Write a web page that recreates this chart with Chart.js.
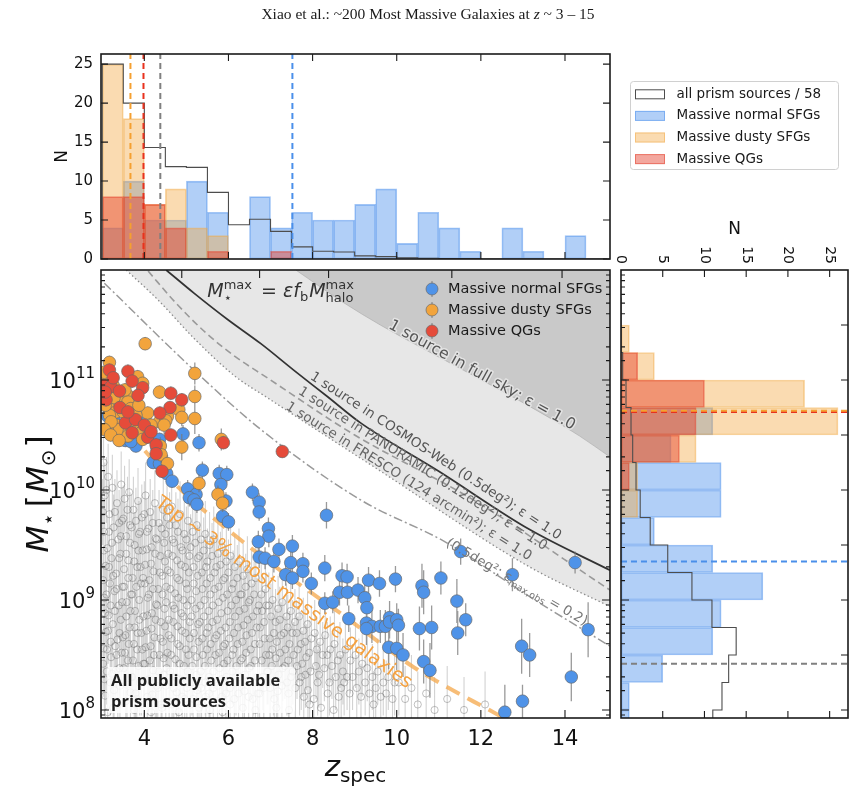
<!DOCTYPE html>
<html>
<head>
<meta charset="utf-8">
<title>Most massive galaxies at z ~ 3-15</title>
<script src="https://cdn.jsdelivr.net/npm/chart.js@4.4.1/dist/chart.umd.min.js"></script>
<style>
  html, body { margin:0; padding:0; background:#ffffff; }
  #wrap { position:relative; width:856px; height:789px; overflow:hidden; background:#fff; }
  #wrap canvas { position:absolute; left:0; top:0; }
  #title { position:absolute; left:0; top:5px; width:856px; text-align:center;
           font-family:"Liberation Serif","Times New Roman",serif; font-size:15.5px; color:#1a1a1a; }
</style>
</head>
<body>
<div id="wrap">
  <canvas id="cTop" width="856" height="789"></canvas>
  <canvas id="cMain" width="856" height="789"></canvas>
  <canvas id="cRight" width="856" height="789"></canvas>
  <div id="title">Xiao et al.: ~200 Most Massive Galaxies at <i>z</i> ~ 3 – 15</div>
</div>
<script>
// ======================= DATA =======================
const zRange = [2.97, 15.07];
const logMRange = [7.927, 12.0];
const nTopMax = 26.3;
const nRightMax = 27.2;
const mainTopTickZ = [4.89, 6.74, 8.38, 11.31, 13.93];

// redshift histogram (top panel), bins of 0.5 starting at z=3
const zEdges = [3.0,3.5,4.0,4.5,5.0,5.5,6.0,6.5,7.0,7.5,8.0,8.5,9.0,9.5,10.0,10.5,11.0,11.5,12.0,12.5,13.0,13.5,14.0,14.5,15.0];
const zHistAll    = [25,20,14.3,11.85,11.75,8.55,4.4,5.1,3.55,1.55,1.0,0.9,0.4,0.3,0.15,0.1,0.05,0.05,0,0,0,0,0,0];
const zHistNormal = [4,10,5,5,10,6,0,8,4,6,5,5,7,9,2,6,4,1,0,4,1,0,3,0];
const zHistDusty  = [25,18,7,9,4,3,0,0,0,0,0,0,0,0,0,0,0,0,0,0,0,0,0,0];
const zHistQG     = [8,8,7,4,0,1,0,0,1,0,0,0,0,0,0,0,0,0,0,0,0,0,0,0];
const zMedians = { all: 4.38, normal: 7.52, dusty: 3.67, qg: 3.98 };

// stellar-mass histogram (right panel), bins of 0.25 dex in log M
const mEdges = [7.75,8.0,8.25,8.5,8.75,9.0,9.25,9.5,9.75,10.0,10.25,10.5,10.75,11.0,11.25,11.5,11.75];
const mHistAll    = [11,12.1,12.9,13.8,10.9,8.5,5.6,3.5,2.3,1.8,1.4,1.2,0.6,0.2,0,0];
const mHistNormal = [1,1,5,11,12,17,11,4,12,12,6,11,0,0,0,0];
const mHistDusty  = [0,0,0,0,0,0,0,0,2,2,9,26,22,4,1,0];
const mHistQG     = [0,0,0,0,0,0,0,0,0,1,7,9,10,2,0,0];
const mMedians = { all: 8.42, normal: 9.35, dusty: 10.72, qg: 10.71 };

// curves: [z, log M*max]
const curveFullSky = [[7.6,12.0],[8.75,11.70],[9.61,11.50],[11.58,11.09],[13.16,10.76],[14.35,10.49],[15.07,10.30]];
const curveCosmos  = [[4.52,12.0],[5.18,11.79],[5.98,11.55],[6.77,11.33],[7.55,11.09],[8.35,10.85],[9.14,10.61],[11.0,10.17],[13.16,9.64],[15.07,9.27]];
const curvePanoramic = [[4.09,11.99],[4.75,11.70],[5.46,11.43],[6.17,11.21],[6.88,11.03],[9.0,10.50],[11.82,9.91],[15.07,9.09]];
const curveFresco  = [[3.57,12.0],[4.32,11.73],[5.23,11.36],[6.17,11.03],[6.88,10.85],[9.5,10.20],[13.16,9.30],[15.07,8.94]];
const curveEps02   = [[3.05,11.88],[5.18,11.09],[6.77,10.55],[9.14,9.91],[11.19,9.52],[13.16,9.03],[15.07,8.58]];
const curveTop3    = [[3.64,10.52],[4.79,10.03],[5.98,9.64],[7.55,9.18],[8.66,8.88],[10.4,8.39],[12.53,7.93]];

// massive galaxies: [z, log M*, error (dex)]
const normalSFGs = [
 [3.1,10.55,.06],[3.3,10.62,.06],[3.55,10.45,.06],[3.6,10.66,.06],[3.8,10.4,.06],[3.85,10.62,.06],[4.1,10.5,.06],[4.3,10.38,.06],
 [3.13,10.67,.06],[3.73,10.56,.06],[3.95,10.53,.06],[4.92,10.51,.08],[3.68,10.44,.06],[4.36,10.46,.06],[5.30,10.43,.08],
 [4.21,10.25,.06],[4.36,10.24,.06],[4.53,10.15,.06],[5.38,10.18,.08],[5.78,10.15,.08],[5.96,10.14,.08],[4.66,10.08,.06],
 [5.03,10.01,.08],[5.82,10.05,.08],[5.23,9.96,.08],[5.07,9.93,.08],[5.18,9.91,.08],[5.25,9.87,.08],[5.94,9.90,.08],
 [6.57,9.98,.08],[6.73,9.89,.08],[6.73,9.80,.08],[5.86,9.76,.08],[6.00,9.71,.08],[8.33,9.77,.12],[6.95,9.65,.1],
 [6.96,9.58,.1],[6.71,9.53,.1],[7.52,9.49,.1],[7.20,9.46,.1],[6.73,9.39,.1],[6.87,9.38,.1],[7.08,9.35,.1],[7.48,9.34,.1],
 [7.77,9.33,.1],[7.77,9.26,.1],[8.29,9.29,.12],[7.36,9.23,.1],[7.52,9.20,.1],[7.97,9.15,.1],[8.70,9.22,.12],[8.82,9.21,.12],
 [8.64,9.07,.12],[8.83,9.07,.12],[9.08,9.09,.12],[9.24,9.02,.12],[8.29,8.97,.1],[8.48,8.98,.1],[8.86,8.83,.12],[9.29,8.93,.15],
 [9.33,9.18,.12],[9.59,9.15,.12],[9.97,9.19,.12],[9.28,8.79,.15],[9.41,8.76,.15],[9.28,8.74,.15],[9.61,8.76,.15],[9.73,8.76,.15],
 [9.83,8.84,.15],[9.83,8.80,.15],[10.0,8.82,.15],[10.04,8.77,.15],[9.81,8.57,.2],[10.0,8.56,.2],[10.15,8.50,.2],[10.60,9.13,.2],
 [10.64,9.07,.2],[11.05,9.20,.15],[10.54,8.74,.2],[10.83,8.75,.2],[10.64,8.44,.2],[10.79,8.36,.25],[11.43,8.99,.2],[11.45,8.70,.2],
 [11.64,8.82,.15],[11.52,9.44,.12],[12.75,9.23,.15],[12.97,8.58,.25],[13.16,8.50,.2],[12.99,8.08,.15],[12.57,7.98,.25],
 [14.24,9.34,.1],[14.55,8.73,.25],[14.15,8.30,.22]
];
const dustySFGs = [
 [4.02,11.33,.06],[3.17,11.16,.06],[3.84,11.03,.06],[5.20,11.06,.1],[3.01,11.0,.06],[3.96,10.97,.06],[4.36,10.89,.06],
 [5.20,10.85,.1],[3.09,10.85,.06],[3.45,10.83,.06],[3.64,10.85,.06],[3.61,10.80,.06],[3.17,10.74,.06],[3.33,10.71,.06],
 [3.68,10.74,.06],[4.82,10.73,.1],[4.08,10.70,.06],[3.17,10.68,.06],[4.55,10.67,.08],[4.89,10.66,.08],[5.20,10.65,.14],
 [3.76,10.61,.06],[4.36,10.62,.08],[4.51,10.63,.08],[4.47,10.59,.08],[3.49,10.56,.06],[3.33,10.59,.06],[3.41,10.55,.06],
 [3.64,10.53,.06],[3.92,10.52,.06],[3.61,10.49,.06],[3.96,10.46,.06],[4.38,10.40,.08],[5.83,10.46,.1],[4.89,10.39,.12],
 [4.40,10.32,.08],[4.55,10.24,.08],[5.30,10.06,.08],[5.75,9.96,.08],[5.86,9.88,.08],[3.05,11.07,.06],[3.26,10.95,.06],
 [3.50,10.71,.06],[3.21,10.62,.06],[3.80,10.68,.06],[3.07,10.77,.06],[3.28,10.84,.06],[3.54,10.91,.06],[3.87,10.77,.06],
 [4.16,10.59,.06],[3.05,10.55,.06],[3.2,10.5,.06],[3.4,10.45,.06]
];
const quiescentGs = [
 [3.17,11.09,.06],[3.61,11.08,.06],[3.71,10.99,.06],[3.03,10.95,.06],[3.21,10.94,.06],[3.96,10.93,.06],[3.41,10.90,.06],
 [4.63,10.88,.06],[4.89,10.82,.06],[3.09,10.82,.06],[3.42,10.75,.06],[4.61,10.75,.06],[4.37,10.70,.06],[3.55,10.61,.06],
 [3.79,10.64,.06],[4.0,10.59,.06],[3.71,10.52,.06],[4.63,10.50,.06],[4.08,10.48,.06],[5.88,10.43,.06],[4.28,10.41,.06],
 [4.28,10.33,.06],[4.42,10.17,.06],[7.28,10.35,.06],[3.26,11.02,.06],[3.07,10.89,.06],[3.61,10.71,.06],[3.85,10.86,.06],
 [4.16,10.53,.06]
];

// all public prism sources (faint background): [z, log M*]
const grayErr = 0.3;
const grayCloud = [
 [3.03,10.25],[3.06,9.95],[3.04,9.62],[3.08,9.31],[3.05,9.02],[3.09,8.71],[3.02,8.42],[3.07,8.13],
 [3.14,10.12],[3.17,9.78],[3.12,9.47],[3.18,9.15],[3.15,8.86],[3.11,8.55],[3.19,8.25],[3.13,7.98],
 [3.24,10.02],[3.27,9.66],[3.22,9.38],[3.29,9.08],[3.25,8.78],[3.21,8.48],[3.28,8.18],
 [3.35,9.88],[3.38,9.55],[3.33,9.24],[3.39,8.95],[3.36,8.64],[3.32,8.36],[3.37,8.05],
 [3.45,10.05],[3.47,9.72],[3.43,9.42],[3.48,9.12],[3.44,8.82],[3.46,8.52],[3.42,8.22],
 [3.53,9.92],[3.57,9.58],[3.52,9.28],[3.58,8.98],[3.55,8.68],[3.51,8.38],[3.56,8.08],
 [3.64,9.98],[3.66,9.68],[3.62,9.36],[3.68,9.05],[3.65,8.75],[3.61,8.45],[3.67,8.16],
 [3.74,9.82],[3.77,9.5],[3.72,9.2],[3.78,8.9],[3.75,8.6],[3.71,8.3],[3.76,8.0],
 [3.85,9.9],[3.87,9.6],[3.83,9.3],[3.88,9.0],[3.84,8.7],[3.86,8.4],[3.82,8.1],
 [3.94,9.75],[3.96,9.45],[3.92,9.15],[3.98,8.85],[3.95,8.55],[3.93,8.25],
 [4.03,9.95],[4.06,9.62],[4.02,9.32],[4.08,9.02],[4.05,8.72],[4.01,8.42],[4.07,8.12],
 [4.14,9.8],[4.17,9.48],[4.12,9.18],[4.18,8.88],[4.15,8.58],[4.11,8.28],[4.16,7.98],
 [4.25,9.88],[4.27,9.56],[4.22,9.26],[4.28,8.96],[4.24,8.66],[4.21,8.36],[4.26,8.06],
 [4.35,9.7],[4.38,9.4],[4.33,9.1],[4.39,8.8],[4.36,8.5],[4.32,8.2],
 [4.45,9.82],[4.47,9.52],[4.43,9.22],[4.48,8.92],[4.44,8.62],[4.46,8.32],[4.42,8.02],
 [4.54,9.75],[4.57,9.42],[4.52,9.12],[4.58,8.82],[4.55,8.52],[4.51,8.22],
 [4.65,9.85],[4.67,9.55],[4.62,9.25],[4.68,8.95],[4.64,8.65],[4.61,8.35],[4.66,8.05],
 [4.75,9.68],[4.78,9.36],[4.73,9.06],[4.79,8.76],[4.74,8.46],[4.77,8.16],
 [4.85,9.78],[4.87,9.48],[4.83,9.18],[4.88,8.88],[4.84,8.58],[4.86,8.28],[4.82,7.98],
 [4.95,9.6],[4.97,9.3],[4.93,9.0],[4.98,8.7],[4.94,8.4],[4.96,8.1],
 [5.04,9.72],[5.07,9.4],[5.02,9.1],[5.08,8.8],[5.05,8.5],[5.01,8.2],
 [5.15,9.62],[5.17,9.3],[5.12,9.0],[5.18,8.7],[5.14,8.4],[5.16,8.1],
 [5.25,9.68],[5.27,9.38],[5.23,9.08],[5.28,8.78],[5.24,8.48],[5.26,8.18],
 [5.35,9.55],[5.37,9.25],[5.33,8.95],[5.38,8.65],[5.34,8.35],[5.36,8.05],
 [5.45,9.6],[5.47,9.3],[5.43,9.0],[5.48,8.7],[5.44,8.4],[5.46,8.12],
 [5.55,9.5],[5.57,9.2],[5.53,8.9],[5.58,8.6],[5.54,8.3],[5.56,8.0],
 [5.65,9.55],[5.67,9.25],[5.63,8.95],[5.68,8.65],[5.64,8.35],
 [5.75,9.42],[5.77,9.12],[5.73,8.82],[5.78,8.52],[5.74,8.22],
 [5.85,9.48],[5.87,9.18],[5.83,8.88],[5.88,8.58],[5.84,8.28],[5.86,7.98],
 [5.95,9.35],[5.97,9.05],[5.93,8.75],[5.98,8.45],[5.94,8.15],
 [6.05,9.4],[6.08,9.1],[6.03,8.8],[6.09,8.5],[6.04,8.2],
 [6.15,9.3],[6.18,9.0],[6.13,8.7],[6.19,8.4],[6.14,8.1],
 [6.25,9.35],[6.28,9.05],[6.23,8.75],[6.29,8.45],[6.24,8.15],
 [6.35,9.22],[6.38,8.92],[6.33,8.62],[6.39,8.32],[6.34,8.02],
 [6.45,9.28],[6.48,8.98],[6.43,8.68],[6.49,8.38],
 [6.55,9.15],[6.58,8.85],[6.53,8.55],[6.59,8.25],
 [6.65,9.2],[6.68,8.9],[6.63,8.6],[6.69,8.3],[6.64,8.0],
 [6.78,9.05],[6.75,8.75],[6.79,8.45],[6.74,8.15],
 [6.88,9.1],[6.85,8.8],[6.89,8.5],[6.84,8.2],
 [6.96,8.95],[6.98,8.65],[6.94,8.35],
 [7.05,9.0],[7.08,8.7],[7.03,8.4],[7.09,8.1],
 [7.18,8.92],[7.15,8.62],[7.19,8.32],[7.14,8.02],
 [7.28,8.98],[7.25,8.68],[7.29,8.38],
 [7.38,8.85],[7.35,8.55],[7.39,8.25],
 [7.48,8.9],[7.45,8.6],[7.49,8.3],[7.44,8.0],
 [7.58,8.8],[7.55,8.5],[7.59,8.2],
 [7.68,8.85],[7.65,8.55],[7.69,8.25],
 [7.78,8.72],[7.75,8.42],[7.79,8.12],
 [7.88,8.78],[7.85,8.48],[7.89,8.18],
 [7.97,8.65],[7.95,8.35],
 [8.05,8.7],[8.08,8.4],[8.03,8.1],[8.18,8.62],[8.15,8.32],[8.2,8.02],[8.3,8.68],[8.28,8.38],
 [8.42,8.55],[8.4,8.25],[8.52,8.6],[8.55,8.3],[8.5,8.0],[8.65,8.5],[8.68,8.2],[8.78,8.55],[8.75,8.25],
 [8.9,8.45],[8.88,8.15],
 [9.02,8.5],[9.05,8.2],[9.18,8.42],[9.15,8.12],[9.3,8.38],[9.42,8.3],[9.45,8.05],[9.55,8.35],[9.68,8.25],
 [9.8,8.3],[9.9,8.1],
 [10.05,8.25],[10.2,8.1],[10.35,8.2],[10.5,8.05],[10.7,8.15],[10.9,8.0],[11.2,8.1],[11.6,8.0],[12.1,8.05],
 [3.01,9.8],[3.04,9.45],[3.02,9.18],[3.06,8.88],[3.03,8.56],[3.05,8.28],[3.1,10.0],[3.1,9.05],[3.11,8.35],[3.16,9.62],
 [3.16,9.3],[3.14,8.72],[3.2,8.95],[3.2,8.62],[3.23,9.52],[3.23,8.33],[3.26,9.22],[3.26,8.02],[3.3,9.8],[3.3,8.9],
 [3.31,8.58],[3.34,9.1],[3.34,8.5],[3.4,9.7],[3.4,9.38],[3.41,8.7],[3.41,8.38],[3.44,9.58],[3.47,8.98],[3.49,8.66],
 [3.5,9.74],[3.52,9.12],[3.54,8.52],[3.57,9.42],[3.57,8.85],[3.59,8.23],[3.6,9.82],[3.62,9.2],[3.63,8.6],[3.66,9.52],
 [3.67,8.9],[3.69,8.3],[3.7,9.66],[3.71,9.05],[3.73,8.45],[3.76,9.35],[3.77,8.75],[3.79,8.15],[3.8,9.72],[3.81,9.12],
 [3.83,8.55],[3.86,9.45],[3.88,8.82],[3.89,8.25],[3.9,9.62],[3.91,9.3],[3.93,8.7],[3.97,9.2],[3.98,8.42],[3.99,8.05],
 [4.0,9.78],[4.01,9.15],[4.03,8.57],[4.06,9.46],[4.07,8.86],[4.09,8.27],[4.1,9.65],[4.11,9.05],[4.13,8.45],[4.16,9.33],
 [4.17,8.74],[4.19,8.14],[4.2,9.7],[4.21,9.1],[4.23,8.5],[4.26,9.42],[4.27,8.82],[4.29,8.22],[4.3,9.55],[4.31,8.95],
 [4.34,8.35],[4.37,9.25],[4.38,8.65],[4.4,8.05],[4.41,9.65],[4.43,9.05],[4.46,8.47],[4.49,9.35],[4.49,8.76],
 [4.5,9.6],[4.52,8.98],[4.53,8.38],[4.56,9.27],[4.58,8.68],[4.59,8.08],[4.6,9.68],[4.62,9.1],[4.64,8.5],[4.67,9.4],
 [4.69,8.8],[4.7,8.2],[4.71,9.52],[4.72,8.92],[4.75,8.3],[4.78,9.2],[4.79,8.6],[4.8,9.62],[4.81,9.02],[4.84,8.42],
 [4.87,9.32],[4.89,8.72],[4.9,8.12],[4.91,9.45],[4.93,8.85],[4.96,8.25],[4.99,9.15],[4.99,8.55],
 [5.0,9.55],[5.02,8.95],[5.03,8.35],[5.06,9.25],[5.08,8.65],[5.09,8.05],[5.1,9.48],[5.12,8.85],[5.13,8.25],[5.17,9.15],
 [5.18,8.55],[5.21,9.52],[5.22,8.92],[5.24,8.32],[5.27,9.22],[5.29,8.62],[5.3,8.02],[5.31,9.4],[5.32,8.8],[5.35,8.2],
 [5.38,9.1],[5.39,8.5],[5.41,9.45],[5.42,8.85],[5.45,8.25],[5.48,9.15],[5.49,8.55],
 [5.5,9.35],[5.52,8.75],[5.54,8.15],[5.57,9.05],[5.59,8.45],[5.61,9.4],[5.62,8.8],[5.64,8.2],[5.67,9.1],[5.69,8.5],
 [5.71,9.3],[5.72,8.68],[5.74,8.08],[5.77,8.98],[5.79,8.38],[5.81,9.32],[5.82,8.72],[5.84,8.12],[5.87,9.02],[5.89,8.42],
 [5.91,9.2],[5.92,8.6],[5.95,8.3],[5.98,8.9],
 [6.0,9.25],[6.02,8.65],[6.04,8.05],[6.07,8.95],[6.09,8.35],[6.11,9.15],[6.12,8.55],[6.16,8.85],[6.18,8.25],[6.21,9.2],
 [6.22,8.6],[6.26,8.9],[6.28,8.3],[6.31,9.05],[6.33,8.47],[6.36,8.77],[6.38,8.17],[6.41,9.12],[6.42,8.52],[6.46,8.82],[6.48,8.12],
 [6.51,9.0],[6.53,8.4],[6.56,8.7],[6.58,8.1],[6.61,9.05],[6.63,8.45],[6.67,8.75],[6.7,8.15],[6.72,8.95],[6.74,8.6],
 [6.8,8.9],[6.82,8.3],[6.86,8.65],[6.9,8.95],[6.92,8.35],[6.97,8.5],[6.99,8.2],
 [7.01,8.85],[7.04,8.55],[7.07,8.25],[7.12,8.8],[7.13,8.47],[7.17,8.17],[7.22,8.82],[7.23,8.52],[7.27,8.22],[7.32,8.7],
 [7.34,8.4],[7.41,8.75],[7.42,8.45],[7.43,8.15],[7.52,8.7],[7.53,8.35],[7.62,8.7],[7.63,8.4],[7.72,8.6],[7.73,8.3],
 [7.82,8.62],[7.83,8.32],[7.92,8.52],[7.93,8.05],
 [8.1,8.55],[8.12,8.25],[8.24,8.5],[8.35,8.5],[8.36,8.15],[8.46,8.4],[8.6,8.45],[8.62,8.12],[8.72,8.35],[8.82,8.3],
 [8.95,8.3],[9.1,8.35],[9.25,8.25],[9.35,8.15],[9.5,8.2],[9.62,8.12],[9.75,8.15],[9.95,8.25]
];

// ======================= STYLE / LAYOUT =======================
const FONT = '"DejaVu Sans", sans-serif';
Chart.defaults.font.family = FONT;
Chart.defaults.color = '#111';
const COL = {
  normal: '#4F93E8', dusty: '#F2A43C', qg: '#E54B3A',
  normalHist: 'rgba(70,140,235,0.42)', normalEdge: 'rgba(70,140,235,0.5)',
  dustyHist: 'rgba(242,170,70,0.42)', dustyEdge: 'rgba(242,170,70,0.5)',
  qgHist: 'rgba(228,60,40,0.45)', qgEdge: 'rgba(228,60,40,0.5)',
  normalMed: '#4A8FEA', dustyMed: '#F5A030', qgMed: '#E8321E', allMed: '#808080',
  step: '#4d4d4d'
};
const TOP_AREA = {left:101, right:610, top:54, bottom:259};
const MAIN_AREA = {left:101, right:610, top:270, bottom:718};
const RIGHT_AREA = {left:621, right:848, top:270, bottom:718};
const TOP_YAXIS_W = 40, MAIN_XAXIS_H = 40;

// ======================= HELPERS =======================
const toPts = (arr, defErr) => arr.map(r => ({x:r[0], y:Math.pow(10, r[1]), err: r.length > 2 ? r[2] : defErr}));
const toCurve = arr => arr.map(r => ({x:r[0], y:Math.pow(10, r[1])}));
function barsV(edges, vals){ const o=[]; vals.forEach((v,i)=>{ if(v>0) o.push({x:(edges[i]+edges[i+1])/2, y:v}); }); return o; }
function barsH(edges, vals){ const o=[]; vals.forEach((v,i)=>{ if(v>0) o.push({y:(edges[i]+edges[i+1])/2, x:v}); }); return o; }
function stepV(edges, vals){ const p=[{x:edges[0],y:0}]; vals.forEach((v,i)=>{ p.push({x:edges[i],y:v}); p.push({x:edges[i+1],y:v}); }); p.push({x:edges[edges.length-1],y:0}); return p; }
function stepH(edges, vals){ const p=[{y:edges[0],x:0}]; vals.forEach((v,i)=>{ p.push({y:edges[i],x:v}); p.push({y:edges[i+1],x:v}); }); p.push({y:edges[edges.length-1],x:0}); return p; }
const isDecade = v => Math.abs(Math.log10(v) - Math.round(Math.log10(v))) < 1e-7;

function fontStr(p){ return (p.it?'italic ':'') + (p.b?'bold ':'') + p.s + 'px ' + FONT; }
function richLayout(ctx, parts){
  let w = 0; const pos = [];
  parts.forEach(p => { ctx.font = fontStr(p); let adv = ctx.measureText(p.t).width;
    if (p.alt) { ctx.font = fontStr(p.alt); adv = Math.max(adv, ctx.measureText(p.alt.t).width); }
    pos.push(w); w += adv + (p.gap||0); });
  return {w, pos};
}
function drawRich(ctx, parts, x, y, align, color, halo){
  const L = richLayout(ctx, parts);
  const x0 = align === 'center' ? x - L.w/2 : (align === 'right' ? x - L.w : x);
  ctx.textAlign = 'left'; ctx.textBaseline = 'alphabetic';
  parts.forEach((p, i) => {
    const items = [p]; if (p.alt) items.push(p.alt);
    items.forEach(q => {
      ctx.font = fontStr(q); const yy = y + (q.dy || 0);
      if (halo) { ctx.strokeStyle = halo; ctx.lineWidth = 3; ctx.lineJoin = 'round'; ctx.strokeText(q.t, x0 + L.pos[i], yy); }
      ctx.fillStyle = color; ctx.fillText(q.t, x0 + L.pos[i], yy);
    });
  });
}
function rrect(ctx, x, y, w, h, r){ ctx.beginPath(); ctx.moveTo(x+r,y); ctx.lineTo(x+w-r,y); ctx.quadraticCurveTo(x+w,y,x+w,y+r);
  ctx.lineTo(x+w,y+h-r); ctx.quadraticCurveTo(x+w,y+h,x+w-r,y+h); ctx.lineTo(x+r,y+h); ctx.quadraticCurveTo(x,y+h,x,y+h-r);
  ctx.lineTo(x,y+r); ctx.quadraticCurveTo(x,y,x+r,y); ctx.closePath(); }
function frame(ctx, a){ ctx.save(); ctx.strokeStyle = '#1a1a1a'; ctx.lineWidth = 1.6; ctx.strokeRect(a.left, a.top, a.right-a.left, a.bottom-a.top); ctx.restore(); }

const hidden = { grid:{display:false, drawTicks:false}, border:{display:false} };
const baseOpts = { responsive:false, animation:false, events:[], plugins:{ legend:{display:false}, tooltip:{enabled:false} } };
function medianV(z, color){ return {type:'line', data:[{x:z,y:0},{x:z,y:nTopMax}], borderColor:color, borderWidth:2, borderDash:[6,4], pointRadius:0, fill:false, order:0}; }
function medianH(m, color){ return {type:'line', data:[{x:0,y:m},{x:nRightMax,y:m}], borderColor:color, borderWidth:2, borderDash:[6,4], pointRadius:0, fill:false, order:0}; }
const barStyle = { borderWidth:1, borderSkipped:false, grouped:false, barPercentage:1, categoryPercentage:1 };

// ======================= TOP HISTOGRAM =======================
const topDeco = {
  id:'topDeco',
  afterDraw(chart){
    const {ctx, chartArea:a, scales:{x, y}} = chart;
    frame(ctx, a);
    ctx.save(); ctx.strokeStyle = '#1a1a1a'; ctx.lineWidth = 1.1; ctx.beginPath();
    y.ticks.forEach(t => { const py = y.getPixelForValue(t.value); if (py < a.top+1) return;
      ctx.moveTo(a.left, py); ctx.lineTo(a.left+7, py); ctx.moveTo(a.right, py); ctx.lineTo(a.right-7, py); });
    x.ticks.forEach(t => { const px = x.getPixelForValue(t.value);
      ctx.moveTo(px, a.top); ctx.lineTo(px, a.top+7); ctx.moveTo(px, a.bottom); ctx.lineTo(px, a.bottom-7); });
    ctx.stroke();
    ctx.save(); ctx.translate(63, (a.top+a.bottom)/2); ctx.rotate(-Math.PI/2);
    ctx.font = '17px ' + FONT; ctx.fillStyle = '#111'; ctx.textAlign = 'center'; ctx.textBaseline = 'middle';
    ctx.fillText('N', 0, 0); ctx.restore();
    // legend
    const ds = chart.data.datasets;
    const rows = [ds[0], ds[1], ds[2], ds[3]];
    ctx.fillStyle = '#fff'; ctx.strokeStyle = '#d0d0d0'; ctx.lineWidth = 1;
    rrect(ctx, 630.5, 81.5, 208, 88, 3); ctx.fill(); ctx.stroke();
    rows.forEach((d, i) => {
      const cy = 94.3 + i*21.6;
      const fill = d.type === 'line' ? '#ffffff' : d.backgroundColor;
      ctx.fillStyle = fill; ctx.fillRect(635, cy-5, 30, 10);
      ctx.strokeStyle = d.borderColor; ctx.lineWidth = 1; ctx.strokeRect(635.5, cy-4.5, 29, 9);
      ctx.fillStyle = '#1a1a1a'; ctx.font = '13.5px ' + FONT; ctx.textAlign = 'left'; ctx.textBaseline = 'middle';
      ctx.fillText(d.label, 676.5, cy);
    });
    ctx.restore();
  }
};
new Chart(document.getElementById('cTop'), {
  type:'bar',
  data:{ datasets:[
    {type:'line', label:'all prism sources / 58', data:stepV(zEdges, zHistAll), borderColor:COL.step, borderWidth:1.1, pointRadius:0, fill:false, tension:0, order:1, clip:0},
    Object.assign({label:'Massive normal SFGs', data:barsV(zEdges, zHistNormal), backgroundColor:COL.normalHist, borderColor:COL.normalEdge, order:4}, barStyle),
    Object.assign({label:'Massive dusty SFGs', data:barsV(zEdges, zHistDusty), backgroundColor:COL.dustyHist, borderColor:COL.dustyEdge, order:3}, barStyle),
    Object.assign({label:'Massive QGs', data:barsV(zEdges, zHistQG), backgroundColor:COL.qgHist, borderColor:COL.qgEdge, order:2}, barStyle),
    medianV(zMedians.dusty, COL.dustyMed), medianV(zMedians.qg, COL.qgMed),
    medianV(zMedians.all, COL.allMed), medianV(zMedians.normal, COL.normalMed)
  ]},
  options: Object.assign({}, baseOpts, {
    layout:{ padding:{left:TOP_AREA.left - TOP_YAXIS_W, right:856-TOP_AREA.right, top:TOP_AREA.top, bottom:789-TOP_AREA.bottom} },
    scales:{
      x: Object.assign({type:'linear', min:zRange[0], max:zRange[1], offset:false,
          ticks:{display:false, stepSize:2, includeBounds:false}, afterFit(s){ s.height = 0; }}, hidden),
      y: Object.assign({type:'linear', min:0, max:nTopMax,
          ticks:{stepSize:5, includeBounds:false, font:{size:15}, color:'#111', padding:8}, afterFit(s){ s.width = TOP_YAXIS_W; }}, hidden)
    }
  }),
  plugins:[topDeco]
});

// ======================= MAIN SCATTER =======================
const errBars = {
  id:'errBars',
  beforeDatasetDraw(chart, args){
    const ds = chart.data.datasets[args.index];
    if (!ds.errColor) return;
    const {ctx, chartArea:a, scales:{y}} = chart;
    ctx.save(); ctx.beginPath(); ctx.rect(a.left, a.top, a.right-a.left, a.bottom-a.top); ctx.clip();
    ctx.strokeStyle = ds.errColor; ctx.lineWidth = ds.errWidth || 1; ctx.beginPath();
    args.meta.data.forEach((pt, j) => {
      const d = ds.data[j]; if (!d.err) return;
      const lm = Math.log10(d.y);
      ctx.moveTo(pt.x, y.getPixelForValue(Math.pow(10, lm - d.err)));
      ctx.lineTo(pt.x, y.getPixelForValue(Math.pow(10, lm + d.err)));
    });
    ctx.stroke(); ctx.restore();
  }
};
const mainDeco = {
  id:'mainDeco',
  afterDatasetsDraw(chart){
    const {ctx, chartArea:a, scales:{x, y}} = chart;
    const P = (z, m) => [x.getPixelForValue(z), y.getPixelForValue(Math.pow(10, m))];
    ctx.save();
    ctx.beginPath(); ctx.rect(a.left, a.top, a.right-a.left, a.bottom-a.top); ctx.clip();
    const rot = (z, m, deg, parts, color, halo) => {
      const [px, py] = P(z, m); ctx.save(); ctx.translate(px, py); ctx.rotate(deg*Math.PI/180);
      drawRich(ctx, parts, 0, 0, 'center', color, halo); ctx.restore();
    };
    rot(7.24, 11.755, 0, [
      {t:'M', it:true, s:19},
      {t:'max', s:13, dy:-8, alt:{t:'⋆', s:13, dy:5}, gap:3},
      {t:' = ', s:19},
      {t:'ε', it:true, s:19}, {t:'f', it:true, s:19}, {t:'b', s:13, dy:4, gap:1},
      {t:'M', it:true, s:19},
      {t:'max', s:13, dy:-8, alt:{t:'halo', s:13, dy:5}}
    ], '#333');
    rot(11.98, 11.01, 29, [{t:'1 source in full sky; ε = 1.0', s:15.5}], '#555', 'rgba(230,230,230,0.9)');
    rot(10.88, 10.28, 33, [{t:'1 source in COSMOS-Web (0.5deg²); ε = 1.0', s:13.5}], '#555');
    rot(10.57, 10.165, 32.5, [{t:'1 source in PANORAMIC (0.12deg²); ε = 1.0', s:13.5}], '#666');
    rot(10.24, 10.05, 32, [{t:'1 source in FRESCO (124 arcmin²); ε = 1.0', s:13.5}], '#666');
    rot(12.81, 9.132, 30, [{t:'(0.5deg²; ε', s:13.5}, {t:'max,obs', s:9.5, dy:3}, {t:' = 0.2)', s:13.5}], '#777');
    rot(7.24, 9.027, 36, [{t:'Top ~ 3% most massive galaxies', s:19}], '#F4A140');
    ctx.fillStyle = 'rgba(255,255,255,0.85)'; rrect(ctx, a.left+6, a.bottom-51, 188, 46, 3); ctx.fill();
    ctx.fillStyle = '#1f1f1f'; ctx.font = 'bold 16.5px "Open Sans", ' + FONT; ctx.textAlign = 'left'; ctx.textBaseline = 'middle';
    ctx.fillText('All publicly available', a.left+10, a.bottom-37);
    ctx.fillText('prism sources', a.left+10, a.bottom-16);
    const ds = chart.data.datasets.filter(d => d.isGalaxy);
    ds.forEach((d, i) => {
      const cx = a.right - 178, cy = a.top + 19 + i*21;
      ctx.strokeStyle = 'rgba(120,120,120,0.75)'; ctx.lineWidth = 1.2; ctx.beginPath(); ctx.moveTo(cx, cy-8); ctx.lineTo(cx, cy+8); ctx.stroke();
      ctx.beginPath(); ctx.arc(cx, cy, 6, 0, 2*Math.PI); ctx.fillStyle = d.backgroundColor; ctx.fill();
      ctx.strokeStyle = d.borderColor; ctx.lineWidth = 0.8; ctx.stroke();
      ctx.fillStyle = '#1a1a1a'; ctx.font = '14.5px ' + FONT; ctx.textAlign = 'left'; ctx.textBaseline = 'middle';
      ctx.fillText(d.label, cx + 16, cy);
    });
    ctx.restore();
  },
  afterDraw(chart){
    const {ctx, chartArea:a, scales:{x, y}} = chart;
    frame(ctx, a);
    ctx.save(); ctx.strokeStyle = '#1a1a1a'; ctx.lineWidth = 1.1; ctx.beginPath();
    y.ticks.forEach(t => { const py = y.getPixelForValue(t.value); if (py < a.top+1 || py > a.bottom-1) return;
      const L = isDecade(t.value) ? 8 : 4;
      ctx.moveTo(a.left, py); ctx.lineTo(a.left+L, py); ctx.moveTo(a.right, py); ctx.lineTo(a.right-L, py); });
    x.ticks.forEach(t => { const px = x.getPixelForValue(t.value); ctx.moveTo(px, a.bottom); ctx.lineTo(px, a.bottom-8); });
    mainTopTickZ.forEach(z => { const px = x.getPixelForValue(z); ctx.moveTo(px, a.top); ctx.lineTo(px, a.top+8); });
    ctx.stroke();
    y.ticks.forEach(t => { const py = y.getPixelForValue(t.value); if (!isDecade(t.value) || py < a.top+2) return;
      const e = String(Math.round(Math.log10(t.value)));
      drawRich(ctx, [{t:'10', s:21}, {t:e, s:15, dy:-10}], a.left-6, py+8, 'right', '#111');
    });
    drawRich(ctx, [{t:'z', it:true, s:29}, {t:'spec', s:20, dy:6}], (a.left+a.right)/2, a.bottom+58, 'center', '#111');
    ctx.save(); ctx.translate(48, (a.top+a.bottom)/2); ctx.rotate(-Math.PI/2);
    drawRich(ctx, [{t:'M', it:true, s:31}, {t:'⋆', s:20, dy:7, gap:6}, {t:'[', s:31, gap:2}, {t:'M', it:true, s:31}, {t:'⊙', s:20, dy:7, gap:2}, {t:']', s:31}], 0, 0, 'center', '#111');
    ctx.restore();
    ctx.restore();
  }
};
const lineBase = {type:'line', pointRadius:0, tension:0, cubicInterpolationMode:'monotone', clip:0};
new Chart(document.getElementById('cMain'), {
  type:'scatter',
  data:{ datasets:[
    Object.assign({}, lineBase, {label:'FRESCO', data:toCurve(curveFresco), borderColor:'#8c8c8c', borderWidth:1.3, borderDash:[1.5,2.5], fill:'end', backgroundColor:'#e7e7e7', order:20}),
    Object.assign({}, lineBase, {label:'full sky', data:toCurve(curveFullSky), borderColor:'rgba(170,170,170,0.8)', borderWidth:0.8, fill:'end', backgroundColor:'#c9c9c9', order:19}),
    Object.assign({}, lineBase, {label:'COSMOS-Web', data:toCurve(curveCosmos), borderColor:'#333', borderWidth:1.7, fill:false, order:18}),
    Object.assign({}, lineBase, {label:'PANORAMIC', data:toCurve(curvePanoramic), borderColor:'#9a9a9a', borderWidth:1.6, borderDash:[7,4], fill:false, order:18}),
    Object.assign({}, lineBase, {label:'eps0.2', data:toCurve(curveEps02), borderColor:'#9a9a9a', borderWidth:1.5, borderDash:[9,3,2,3], fill:false, order:18}),
    {label:'all prism sources', data:toPts(grayCloud, grayErr), pointRadius:3.6, pointBackgroundColor:'rgba(0,0,0,0)',
      pointBorderColor:'rgba(100,100,100,0.5)', pointBorderWidth:0.8, errColor:'rgba(105,105,105,0.3)', errWidth:1.1, order:16, clip:0},
    Object.assign({}, lineBase, {label:'top 3%', data:toCurve(curveTop3), borderColor:'rgba(245,172,85,0.8)', borderWidth:4, borderDash:[15,9], fill:false, order:15}),
    {label:'Massive normal SFGs', isGalaxy:true, data:toPts(normalSFGs), backgroundColor:COL.normal, borderColor:'rgba(105,105,105,0.85)', borderWidth:0.8, pointRadius:6.3, errColor:'rgba(120,120,120,0.75)', errWidth:1.3, order:3, clip:0},
    {label:'Massive dusty SFGs', isGalaxy:true, data:toPts(dustySFGs), backgroundColor:COL.dusty, borderColor:'rgba(105,105,105,0.85)', borderWidth:0.8, pointRadius:6.3, errColor:'rgba(120,120,120,0.75)', errWidth:1.3, order:2, clip:0},
    {label:'Massive QGs', isGalaxy:true, data:toPts(quiescentGs), backgroundColor:COL.qg, borderColor:'rgba(105,105,105,0.85)', borderWidth:0.8, pointRadius:6.3, errColor:'rgba(120,120,120,0.75)', errWidth:1.3, order:1, clip:0}
  ]},
  options: Object.assign({}, baseOpts, {
    layout:{ padding:{left:MAIN_AREA.left, right:856-MAIN_AREA.right, top:MAIN_AREA.top, bottom:789-MAIN_AREA.bottom-MAIN_XAXIS_H} },
    scales:{
      x: Object.assign({type:'linear', min:zRange[0], max:zRange[1],
          ticks:{stepSize:2, includeBounds:false, font:{size:21}, color:'#111', padding:9, maxRotation:0, autoSkip:false}, afterFit(s){ s.height = MAIN_XAXIS_H; }}, hidden),
      y: Object.assign({type:'logarithmic', min:Math.pow(10, logMRange[0]), max:Math.pow(10, logMRange[1]),
          ticks:{display:false, autoSkip:false}, afterFit(s){ s.width = 0; }}, hidden)
    }
  }),
  plugins:[errBars, mainDeco]
});

// ======================= RIGHT HISTOGRAM =======================
const rightDeco = {
  id:'rightDeco',
  afterDraw(chart){
    const {ctx, chartArea:a, scales:{x, y, yLog}} = chart;
    frame(ctx, a);
    ctx.save(); ctx.strokeStyle = '#1a1a1a'; ctx.lineWidth = 1.1; ctx.beginPath();
    x.ticks.forEach(t => { const px = x.getPixelForValue(t.value); if (px < a.left+1) return;
      ctx.moveTo(px, a.top); ctx.lineTo(px, a.top+7); ctx.moveTo(px, a.bottom); ctx.lineTo(px, a.bottom-7); });
    yLog.ticks.forEach(t => { const py = yLog.getPixelForValue(t.value); if (py < a.top+1 || py > a.bottom-1) return;
      const L = isDecade(t.value) ? 8 : 4; ctx.moveTo(a.left, py); ctx.lineTo(a.left+L, py); });
    y.ticks.forEach(t => { const py = y.getPixelForValue(t.value); if (py < a.top+1 || py > a.bottom-1) return;
      ctx.moveTo(a.right, py); ctx.lineTo(a.right-7, py); });
    ctx.stroke();
    ctx.fillStyle = '#111'; ctx.font = '14px ' + FONT;
    x.ticks.forEach(t => { const px = x.getPixelForValue(t.value);
      ctx.save(); ctx.translate(px, a.top - 6); ctx.rotate(Math.PI/2);
      ctx.textAlign = 'right'; ctx.textBaseline = 'middle'; ctx.fillText(String(t.value), 0, 0); ctx.restore(); });
    ctx.font = '17px ' + FONT; ctx.textAlign = 'center'; ctx.textBaseline = 'middle';
    ctx.fillText('N', (a.left+a.right)/2, a.top - 40);
    ctx.restore();
  }
};
new Chart(document.getElementById('cRight'), {
  type:'bar',
  data:{ datasets:[
    {type:'line', label:'all prism sources / 58', data:stepH(mEdges, mHistAll), borderColor:COL.step, borderWidth:1.1, pointRadius:0, fill:false, tension:0, order:1, clip:0},
    Object.assign({label:'Massive normal SFGs', data:barsH(mEdges, mHistNormal), backgroundColor:COL.normalHist, borderColor:COL.normalEdge, order:4}, barStyle),
    Object.assign({label:'Massive dusty SFGs', data:barsH(mEdges, mHistDusty), backgroundColor:COL.dustyHist, borderColor:COL.dustyEdge, order:3}, barStyle),
    Object.assign({label:'Massive QGs', data:barsH(mEdges, mHistQG), backgroundColor:COL.qgHist, borderColor:COL.qgEdge, order:2}, barStyle),
    medianH(mMedians.dusty, COL.dustyMed), medianH(mMedians.qg, COL.qgMed),
    medianH(mMedians.all, COL.allMed), medianH(mMedians.normal, COL.normalMed)
  ]},
  options: Object.assign({}, baseOpts, {
    indexAxis:'y',
    layout:{ padding:{left:RIGHT_AREA.left, right:856-RIGHT_AREA.right, top:RIGHT_AREA.top, bottom:789-RIGHT_AREA.bottom} },
    scales:{
      x: Object.assign({type:'linear', position:'top', min:0, max:nRightMax,
          ticks:{display:false, stepSize:5, includeBounds:false}, afterFit(s){ s.height = 0; }}, hidden),
      y: Object.assign({type:'linear', position:'left', min:logMRange[0], max:logMRange[1], offset:false,
          ticks:{display:false, stepSize:0.5, includeBounds:false}, afterFit(s){ s.width = 0; }}, hidden),
      yLog: Object.assign({type:'logarithmic', position:'right', min:Math.pow(10, logMRange[0]), max:Math.pow(10, logMRange[1]),
          ticks:{display:false, autoSkip:false}, afterFit(s){ s.width = 0; }}, hidden)
    }
  }),
  plugins:[rightDeco]
});
</script>
</body>
</html>
